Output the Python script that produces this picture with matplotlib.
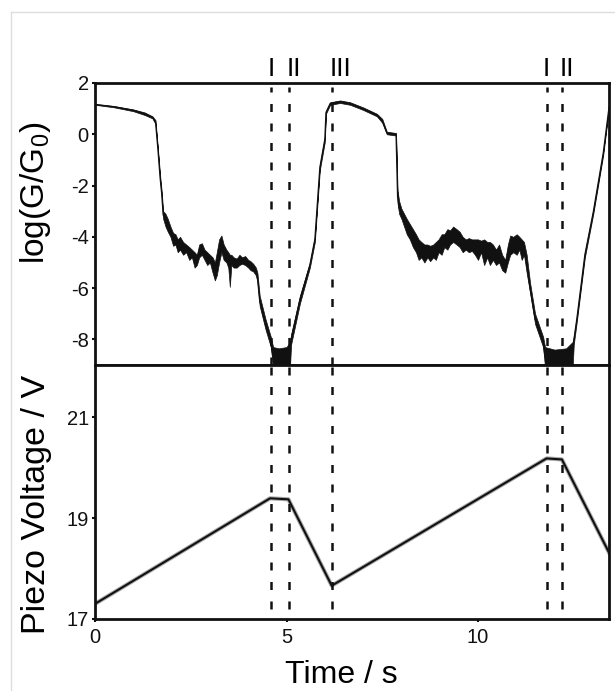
import matplotlib
matplotlib.use("Agg")
import matplotlib.pyplot as plt
from matplotlib.lines import Line2D

plt.rcParams["font.family"] = ["Liberation Sans", "DejaVu Sans"]
plt.rcParams["mathtext.fontset"] = "custom"
plt.rcParams["mathtext.rm"] = "Liberation Sans"
plt.rcParams["mathtext.it"] = "Liberation Sans:italic"

# ---- data ----
# conductance trace: time, lower and upper edge of the (noisy) trace
t_g = [0.00, 0.50, 1.00, 1.30, 1.50, 1.58, 1.64, 1.70, 1.74,
       1.78, 1.84, 1.90, 1.97, 2.04, 2.10, 2.16, 2.22, 2.30, 2.38, 2.46, 2.53,
       2.60, 2.66, 2.72, 2.79, 2.86, 2.93, 3.00, 3.07, 3.13, 3.18, 3.24, 3.30,
       3.36, 3.43, 3.48, 3.52, 3.56, 3.62, 3.70, 3.77, 3.84, 3.92, 4.00, 4.06,
       4.13, 4.20, 4.24,
       4.30, 4.45, 4.59, 4.65, 4.80, 5.00, 5.09, 5.12, 5.35,
       5.61, 5.74, 5.87, 6.00, 6.03, 6.14, 6.40, 6.66, 7.00, 7.36, 7.50, 7.62,
       7.86,
       7.90, 7.94, 8.00, 8.07, 8.14, 8.22, 8.30, 8.38, 8.45, 8.52, 8.60, 8.68,
       8.75, 8.83, 8.90, 8.97, 9.05, 9.12, 9.20, 9.27, 9.35, 9.44, 9.52, 9.60,
       9.68, 9.76, 9.84, 9.92, 10.00, 10.08, 10.16, 10.24, 10.31, 10.39, 10.47,
       10.55, 10.63, 10.71, 10.78, 10.84, 10.92, 11.01, 11.08, 11.14, 11.20,
       11.27,
       11.36, 11.49, 11.70, 11.75, 12.00, 12.30, 12.47, 12.50, 12.58, 12.79,
       13.01, 13.27, 13.42]
g_lo = [1.15, 1.05, 0.90, 0.75, 0.62, 0.40, -0.60, -1.80, -2.40,
        -3.30, -3.60, -3.80, -4.00, -4.35, -4.30, -4.60, -4.50, -4.70, -4.60,
        -4.90, -4.80, -5.20, -5.10, -4.80, -4.70, -4.90, -5.10, -5.00, -5.40,
        -5.70, -5.50, -5.00, -4.60, -4.90, -5.00, -5.20, -5.95, -5.10, -5.20,
        -5.20, -5.10, -5.05, -5.10, -5.20, -5.30, -5.35, -5.50, -5.75,
        -6.70, -7.60, -8.30, -9.10, -9.10, -9.10, -9.10, -8.20, -6.60,
        -5.20, -4.20, -1.40, -0.30, 0.80, 1.15, 1.22, 1.15, 0.95, 0.70, 0.45,
        0.00, -0.05,
        -2.70, -3.10, -3.30, -3.60, -3.90, -4.10, -4.40, -4.60, -4.90, -4.80,
        -5.00, -4.80, -4.95, -4.80, -4.90, -4.60, -4.70, -4.40, -4.50, -4.30,
        -4.20, -4.30, -4.40, -4.60, -4.50, -4.60, -4.55, -4.70, -4.90, -4.60,
        -5.10, -4.80, -5.10, -4.90, -5.10, -5.00, -5.30, -5.40, -5.00, -4.70,
        -4.60, -4.70, -4.50, -4.90, -4.70, -5.40,
        -6.20, -7.40, -8.30, -9.10, -9.10, -9.10, -9.10, -8.20, -7.30, -4.80,
        -3.10, -0.80, 1.00]
g_hi = [1.18, 1.10, 0.97, 0.85, 0.70, 0.55, -0.50, -1.60, -2.20,
        -3.00, -3.10, -3.30, -3.60, -3.85, -3.90, -4.10, -4.00, -4.20, -4.30,
        -4.40, -4.50, -4.60, -4.70, -4.30, -4.25, -4.50, -4.60, -4.70, -4.80,
        -5.00, -4.60, -4.10, -3.95, -4.30, -4.50, -4.60, -4.70, -4.70, -4.80,
        -4.85, -4.70, -4.80, -4.75, -4.90, -4.95, -5.05, -5.20, -5.40,
        -6.30, -7.20, -7.90, -8.30, -8.35, -8.30, -8.10, -7.80, -6.30,
        -5.00, -4.00, -1.20, -0.10, 0.90, 1.25, 1.32, 1.25, 1.05, 0.80, 0.60,
        0.10, 0.05,
        -2.20, -2.60, -2.90, -3.10, -3.30, -3.50, -3.70, -3.90, -4.10, -4.20,
        -4.30, -4.30, -4.35, -4.30, -4.20, -4.10, -3.90, -3.90, -3.70, -3.75,
        -3.60, -3.70, -3.80, -4.00, -4.10, -4.05, -4.10, -4.10, -4.10, -4.15,
        -4.10, -4.20, -4.20, -4.30, -4.50, -4.30, -4.70, -4.90, -4.30, -3.95,
        -4.00, -3.90, -4.00, -4.10, -4.20, -4.70,
        -5.80, -7.00, -7.90, -8.30, -8.40, -8.35, -8.10, -7.90, -7.10, -4.60,
        -2.95, -0.65, 1.10]

# piezo voltage ramp
t_v = [0.00, 4.57, 5.05, 6.18, 11.79, 12.19, 13.43]
volt = [17.30, 19.39, 19.37, 17.66, 20.18, 20.16, 18.30]

# marked instants
t_mark = [4.59, 5.06, 6.18, 11.79, 12.19]
mark_txt = ["I", "II", "III", "I", "II"]

g_ticks = [2, 0, -2, -4, -6, -8]
v_ticks = [17, 19, 21]
t_ticks = [0, 5, 10]

# ---- figure ----
fig = plt.figure(figsize=(6.15, 6.91), dpi=100)
W, H = 615, 691
x0, x1 = 95, 609
ax1 = fig.add_axes([x0 / W, 1 - 365 / H, (x1 - x0) / W, (365 - 83) / H])
ax2 = fig.add_axes([x0 / W, 1 - 619 / H, (x1 - x0) / W, (619 - 365) / H])

# light page border (left + top)
fig.add_artist(Line2D([11 / W, 11 / W], [1 - 12 / H, 1 - 690 / H],
                      transform=fig.transFigure, color="#dddddd", lw=1))
fig.add_artist(Line2D([11 / W, 1.0], [1 - 12 / H, 1 - 12 / H],
                      transform=fig.transFigure, color="#dddddd", lw=1))

xlim = (0, 13.42)
dash = (0, (3.2, 4.6))

# top: conductance
mid = [(a + b) / 2 for a, b in zip(g_lo, g_hi)]
ax1.fill_between(t_g, g_lo, g_hi, color="#111111", lw=0.5, edgecolor="#111111")
ax1.plot(t_g, mid, color="#111111", lw=0.9)
ax1.set_xlim(*xlim)
ax1.set_ylim(-9, 2)
ax1.set_yticks(g_ticks)
ax1.set_yticklabels([str(v) for v in g_ticks])
ax1.set_xticks([])
ax1.set_ylabel(r"log(G/$\mathrm{G}_0$)", fontsize=24)
ax1.yaxis.set_label_coords(-0.082, 0.61)

for t, s in zip(t_mark, mark_txt):
    ax1.axvline(t, color="#111111", lw=1.8, ls=dash, ymax=0.985)
    off = {"I": 0.0, "II": 0.12, "III": 0.22}[s]
    ax1.text(t + off, 2.27, s, ha="center", va="baseline", fontsize=19,
             clip_on=False)

# bottom: piezo voltage
ax2.plot(t_v, volt, color="#aaaaaa", lw=3.0)
ax2.plot(t_v, volt, color="#111111", lw=1.5)
ax2.set_xlim(*xlim)
ax2.set_ylim(17, 22.03)
ax2.set_yticks(v_ticks)
ax2.set_yticklabels([str(v) for v in v_ticks])
ax2.set_xticks(t_ticks)
ax2.set_xticklabels([str(v) for v in t_ticks])
ax2.set_ylabel("Piezo Voltage / V", fontsize=24.5)
ax2.yaxis.set_label_coords(-0.084, 0.45)
ax2.set_xlabel("Time / s", fontsize=23)
ax2.xaxis.set_label_coords(0.48, -0.162)

for t in t_mark:
    ax2.axvline(t, color="#111111", lw=1.8, ls=dash, ymin=0.04)

for ax in (ax1, ax2):
    for sp in ax.spines.values():
        sp.set_linewidth(2.0)
        sp.set_color("#111111")
    ax.tick_params(direction="out", length=2.5, width=1.5, labelsize=14.5,
                   pad=2, colors="#111111")
ax2.tick_params(axis="x", pad=4)

fig.savefig("out.png", dpi=100, facecolor="white")
